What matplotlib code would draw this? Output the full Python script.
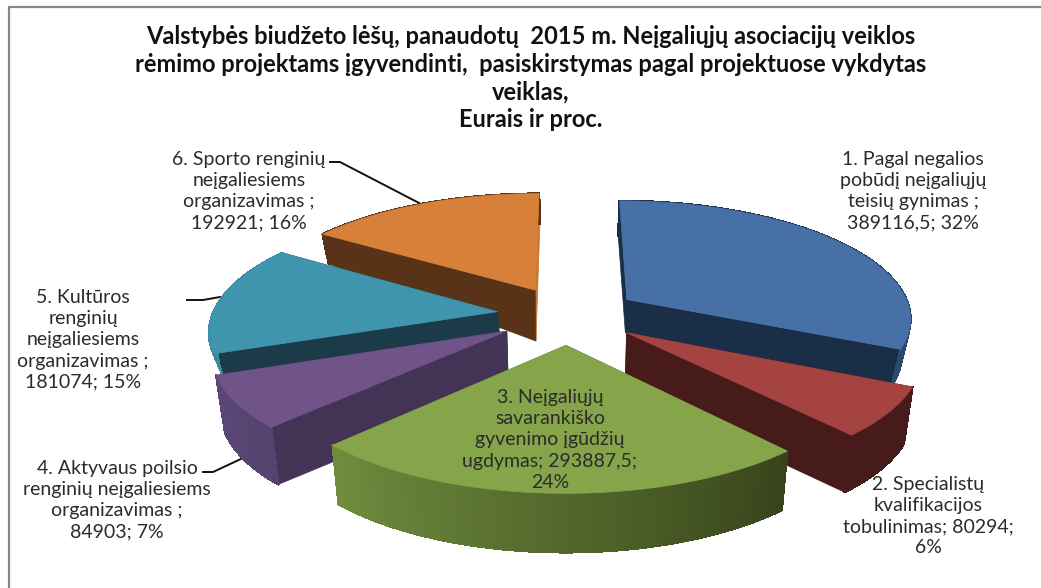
import numpy as np
import matplotlib
matplotlib.use("Agg")
import matplotlib.pyplot as plt
from matplotlib.collections import PolyCollection
from matplotlib.colors import to_rgb

names = ["1. Pagal negalios\npobūdį neįgaliųjų\nteisių gynimas ;",
         "2. Specialistų\nkvalifikacijos\ntobulinimas;",
         "3. Neįgaliųjų\nsavarankiško\ngyvenimo įgūdžių\nugdymas;",
         "4. Aktyvaus poilsio\nrenginių neįgaliesiems\norganizavimas ;",
         "5. Kultūros\nrenginių\nneįgaliesiems\norganizavimas ;",
         "6. Sporto renginių\nneįgaliesiems\norganizavimas ;"]
values = [389116.5, 80294, 293887.5, 84903, 181074, 192921]
value_text = ["\n389116,5; 32%", " 80294;\n6%", " 293887,5;\n24%", "\n84903; 7%", "\n181074; 15%", "\n192921; 16%"]

title = ("Valstybės biudžeto lėšų, panaudotų  2015 m. Neįgaliųjų asociacijų veiklos\n"
         "rėmimo projektams įgyvendinti,  pasiskirstymas pagal projektuose vykdytas\n"
         "veiklas,\nEurais ir proc.")

top_colors = ["#4670a6", "#a54341", "#86a44a", "#6f5389", "#4095ae", "#d7803a"]
wall_colors = ["#1b2e47", "#461b1a", "#5a7030", "#433355", "#1a3b47", "#583318"]
end_wall_colors = ["#1b2e47", "#461b1a", "#5a7030", "#433355", "#1a3b47", "#c9772f"]
rim_from = ["#1b2e47", "#461b1a", "#37431b", "#55426e", "#3a8aa3", "#583318"]
rim_to = ["#2b4a70", "#461b1a", "#708d3e", "#5c4878", "#3a8aa3", "#583318"]
rim_height = [35, 57, 59, 57, 21, 30]
apex_height = [33, 57, 60, 58, 21, 51]

# screen position of the pie and its perspective
cx, cy = 568, 315
R, B, P = 285, 117, 0.144
explode = 0.25
shrink = 0.975


def project(x, y):
    s = 1 / (1 + P * y)
    return cx + R * x * s, cy - B * y * s


fig = plt.figure(figsize=(10.41, 5.88), dpi=100)
ax = fig.add_axes([0, 0, 1, 1])
ax.set_xlim(0, 1041)
ax.set_ylim(588, 0)
ax.axis("off")

# only the top and left edge of the chart frame are in the picture
ax.plot([8.5, 8.5, 1041], [588, 7, 7], color="#868686", lw=1.6, solid_capstyle="butt")

cum = np.cumsum(values) / np.sum(values) * 2 * np.pi
starts = np.r_[0, cum[:-1]]

# paint from back to front
for order, i in enumerate([5, 4, 0, 3, 1, 2]):
    z = 2 + order
    mid = (starts[i] + cum[i]) / 2
    ox, oy = explode * np.sin(mid), explode * np.cos(mid)
    t = np.linspace(starts[i], cum[i], 150)
    tx, ty = project(ox + np.sin(t), oy + np.cos(t))
    px, py = project(ox, oy)
    bx = cx + (tx - cx) * shrink
    by = ty + rim_height[i]
    pbx = cx + (px - cx) * shrink
    pby = py + apex_height[i]

    # cut faces, the one at the end of the slice first
    ax.fill([px, tx[-1], bx[-1], pbx], [py, ty[-1], by[-1], pby],
            color=end_wall_colors[i], lw=0.5, zorder=z)
    ax.fill([px, tx[0], bx[0], pbx], [py, ty[0], by[0], pby],
            color=wall_colors[i], lw=0.5, zorder=z)

    # outer wall, shaded along the rim
    quads = []
    cols = []
    c0, c1 = np.array(to_rgb(rim_from[i])), np.array(to_rgb(rim_to[i]))
    for k in range(len(t) - 1):
        quads.append([(tx[k], ty[k]), (tx[k + 1], ty[k + 1]), (bx[k + 1], by[k + 1]), (bx[k], by[k])])
        cols.append(c0 + (c1 - c0) * k / (len(t) - 2))
    ax.add_collection(PolyCollection(quads, facecolors=cols, edgecolors=cols, linewidths=1.0,
                                     antialiaseds=False, zorder=z + 0.1))

    ax.fill(np.r_[px, tx], np.r_[py, ty], color=top_colors[i], lw=0.5, zorder=z + 0.2)

label_font = ["Lato", "DejaVu Sans"]
ax.text(531, 78, title, ha="center", va="center", multialignment="center", fontsize=17,
        fontweight="bold", family=label_font, color="#111111", linespacing=1.235, zorder=20)

label_x = [913, 928, 550, 117, 83, 249]
label_y = [191, 516, 440, 500, 340, 191]
for i in range(len(names)):
    ax.text(label_x[i], label_y[i], names[i] + value_text[i], ha="center", va="center",
            multialignment="center", fontsize=14, family=label_font, color="#2b2b2b",
            linespacing=1.29, zorder=20)

# leader lines of the outside labels
leader_x = [[330, 340, 421], [187, 203, 220], [203, 213, 243]]
leader_y = [[162, 162, 204], [300, 300, 297], [472, 472, 458]]
for lx, ly in zip(leader_x, leader_y):
    ax.plot(lx, ly, color="#111111", lw=1.4, zorder=1)

fig.savefig("out.png", dpi=100)
